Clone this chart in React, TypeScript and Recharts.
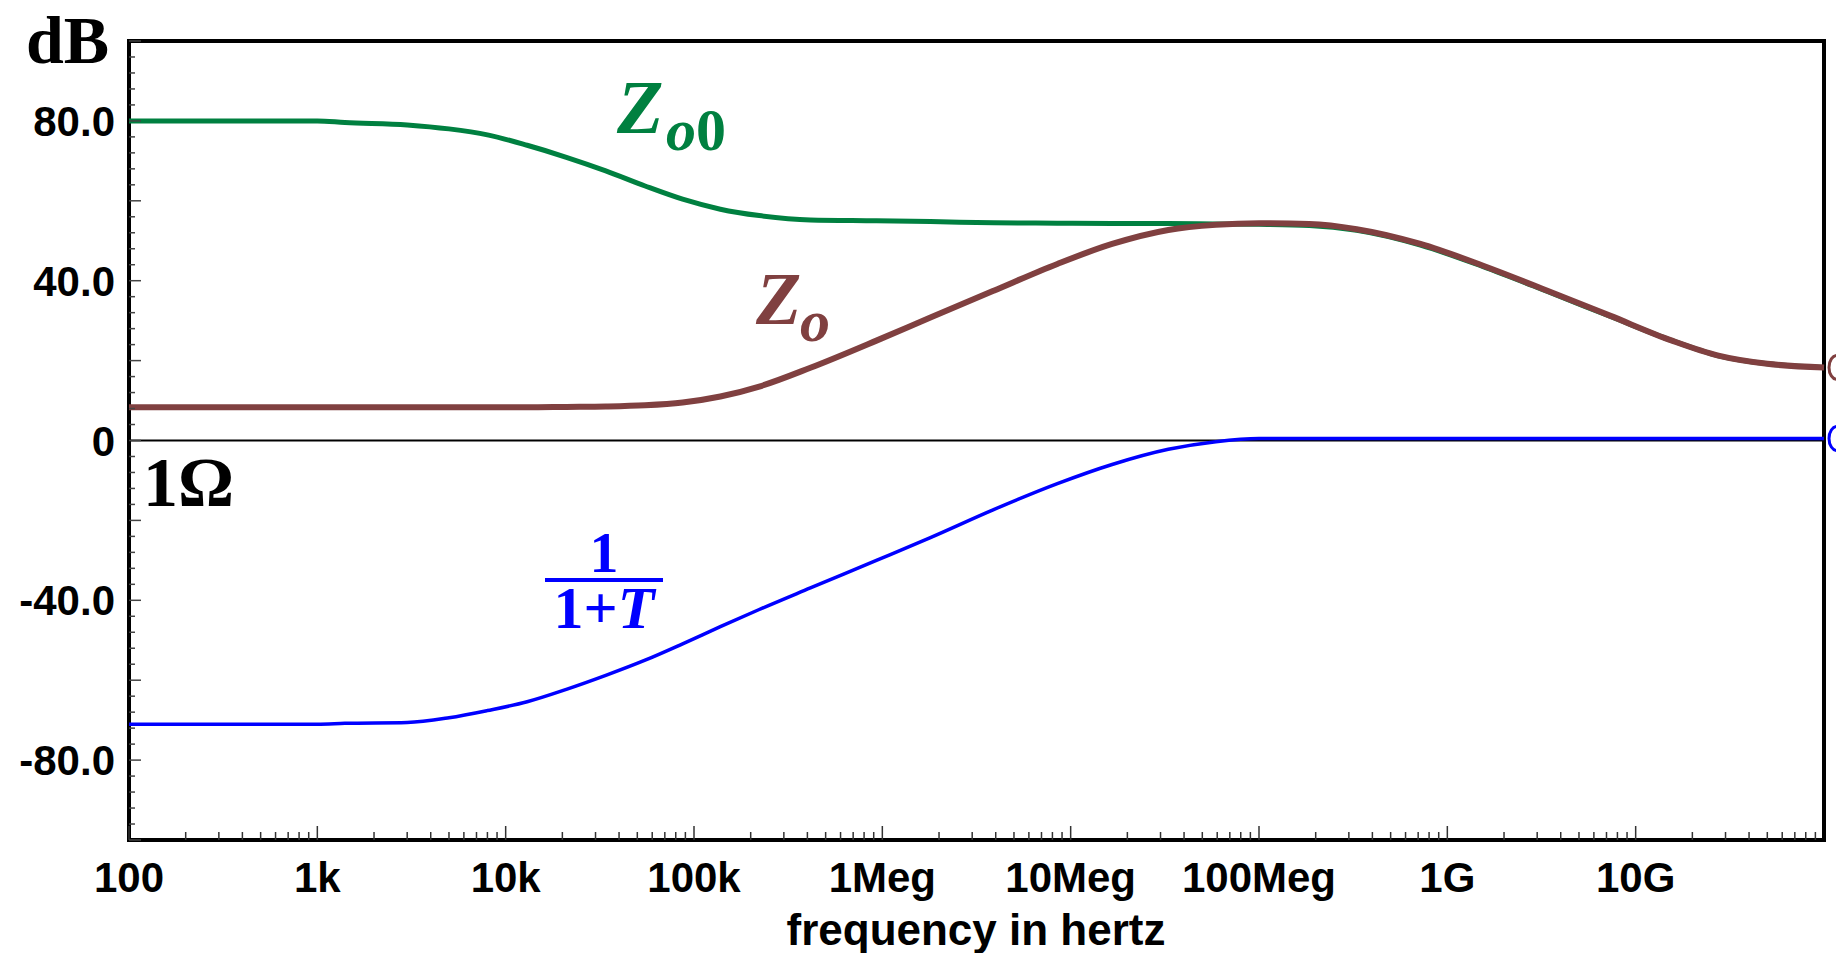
import React from "react";
import {
  LineChart,
  Line,
  XAxis,
  YAxis,
  ReferenceArea,
  ReferenceLine,
  Customized,
} from "recharts";

// frequency in Hz
const freqs = [
  100, 1e3, 1.4e3, 3e3, 5e3, 8e3, 13e3, 21e3, 34e3, 55e3, 87e3, 138e3, 222e3,
  415e3, 930e3, 1.8e6, 3.9e6, 8.5e6, 16.6e6, 33e6, 59e6, 100e6, 185e6, 330e6,
  720e6, 1.55e9, 3.4e9, 7.3e9, 15.6e9, 27.5e9, 50e9, 1e11,
];

// Zo0 in dB
const zo0 = [
  80, 80, 79.6, 79, 78, 76.5, 73.9, 70.9, 67.5, 63.7, 60.4, 57.9, 56.3, 55.2,
  55, 54.8, 54.5, 54.4, 54.3, 54.3, 54.2, 54.1, 53.8, 52.6, 48.9, 43.5, 37.3,
  31.1, 25, 21.2, 19.2, 18.3,
];

// Zo in dB
const zo = [
  8.3, 8.3, 8.3, 8.3, 8.3, 8.3, 8.3, 8.4, 8.5, 8.8, 9.5, 11, 13.5, 18.2, 25,
  30.8, 37.5, 44.2, 49.2, 52.7, 54, 54.4, 54.2, 52.9, 49.2, 43.75, 37.5, 31.25,
  25, 21.25, 19.2, 18.3,
];

// 1/(1+T) in dB
const invLoop = [
  -71, -71, -70.8, -70.6, -69.4, -67.6, -65.4, -62.3, -58.8, -55.0, -50.9,
  -46.6, -42.3, -36.9, -30.0, -24.3, -17.3, -10.8, -6.0, -2.2, -0.3, 0.5, 0.5,
  0.5, 0.5, 0.5, 0.5, 0.5, 0.5, 0.5, 0.5, 0.5,
];

const decadeTicks = [100, 1e3, 1e4, 1e5, 1e6, 1e7, 1e8, 1e9, 1e10];
const decadeLabels = ["100", "1k", "10k", "100k", "1Meg", "10Meg", "100Meg", "1G", "10G"];

const yMajorTicks = [80, 40, 0, -40, -80];
const yMajorLabels = ["80.0", "40.0", "0", "-40.0", "-80.0"];

const data = freqs.map((f, i) => ({ f, zo0: zo0[i], zo: zo[i], inv: invLoop[i] }));

const xTicks: number[] = [];
decadeTicks.forEach((d) => {
  for (let m = 1; m <= 9; m++) xTicks.push(m * d);
});

const yTicks: number[] = [];
for (let v = -100; v <= 100; v += 4) yTicks.push(v);

const GREEN = "#008040";
const BROWN = "#804040";
const BLUE = "#0000ff";
const SANS = "'Liberation Sans', Arial, sans-serif";
const SERIF = "'Liberation Serif', 'Times New Roman', serif";

function XTick(props: any) {
  const { x, y, payload } = props;
  const idx = decadeTicks.indexOf(payload.value);
  const major = idx >= 0;
  return (
    <g>
      <line x1={x} x2={x} y1={y} y2={y - (major ? 14 : 8)} stroke="#333" strokeWidth={1.5} />
      {major && (
        <text x={x} y={y + 52} textAnchor="middle" fontFamily={SANS} fontWeight="bold" fontSize={42} fill="#000">
          {decadeLabels[idx]}
        </text>
      )}
    </g>
  );
}

function YTick(props: any) {
  const { x, y, payload } = props;
  const v = payload.value;
  const idx = yMajorTicks.indexOf(v);
  const long = v % 20 === 0;
  return (
    <g>
      <line x1={x} x2={x + (long ? 12 : 6)} y1={y} y2={y} stroke="#444" strokeWidth={1.5} />
      {idx >= 0 && (
        <text x={x - 14} y={y + 15} textAnchor="end" fontFamily={SANS} fontWeight="bold" fontSize={42} fill="#000">
          {yMajorLabels[idx]}
        </text>
      )}
    </g>
  );
}

function endMark(color: string) {
  return (p: any) => {
    if (p.index !== freqs.length - 1) return <g key={p.key ?? p.index} />;
    return (
      <ellipse key={p.key ?? p.index} cx={p.cx + 13} cy={p.cy} rx={8} ry={12} fill="none" stroke={color} strokeWidth={3} />
    );
  };
}

function Annotations() {
  return (
    <g fontFamily={SERIF} fontWeight="bold">
      <text x={26} y={63} fontSize={68} fill="#000">dB</text>
      <text x={143} y={506} fontSize={70} fill="#000">1Ω</text>

      <text x={617} y={133} fontSize={76} fill={GREEN} fontStyle="italic">Z</text>
      <text x={666} y={150} fontSize={60} fill={GREEN}>
        <tspan fontStyle="italic">o</tspan>0
      </text>

      <text x={756} y={324} fontSize={74} fill={BROWN} fontStyle="italic">Z</text>
      <text x={800} y={341} fontSize={60} fill={BROWN} fontStyle="italic">o</text>

      <text x={604} y={572} fontSize={58} fill={BLUE} textAnchor="middle">1</text>
      <line x1={545} x2={663} y1={580} y2={580} stroke={BLUE} strokeWidth={4} />
      <text x={604} y={628} fontSize={60} fill={BLUE} textAnchor="middle">
        1+<tspan fontStyle="italic">T</tspan>
      </text>

      <text x={976} y={945} fontSize={44} fontFamily={SANS} textAnchor="middle" fill="#000">
        frequency in hertz
      </text>
    </g>
  );
}

export default function App() {
  return (
    <div style={{ position: "absolute", left: 0, top: 0, background: "#fff" }}>
      <LineChart width={1836} height={953} data={data} margin={{ top: 41, right: 12, bottom: 0, left: 0 }}>
        <XAxis
          dataKey="f"
          type="number"
          scale="log"
          domain={[100, 1e11]}
          ticks={xTicks}
          interval={0}
          tick={<XTick />}
          tickSize={0}
          tickMargin={0}
          tickLine={false}
          axisLine={false}
          height={113}
        />
        <YAxis
          type="number"
          domain={[-100, 100]}
          ticks={yTicks}
          interval={0}
          tick={<YTick />}
          tickSize={0}
          tickMargin={0}
          tickLine={false}
          axisLine={false}
          width={129}
        />
        <ReferenceLine y={0} stroke="#000" strokeWidth={2} />
        <Line dataKey="zo0" type="monotone" stroke={GREEN} strokeWidth={5} dot={false} isAnimationActive={false} />
        <Line dataKey="zo" type="monotone" stroke={BROWN} strokeWidth={6} dot={endMark(BROWN)} isAnimationActive={false} />
        <Line dataKey="inv" type="monotone" stroke={BLUE} strokeWidth={3.5} dot={endMark(BLUE)} isAnimationActive={false} />
        <ReferenceArea x1={100} x2={1e11} y1={-100} y2={100} fill="none" stroke="#000" strokeWidth={4} />
        <Customized component={Annotations} />
      </LineChart>
    </div>
  );
}
